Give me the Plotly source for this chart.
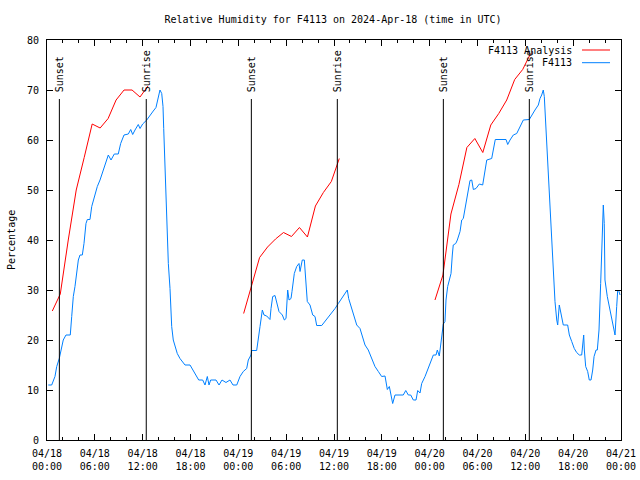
import plotly.graph_objects as go
from datetime import datetime, timedelta

TITLE = "Relative Humidity for F4113 on 2024-Apr-18 (time in UTC)"
START = datetime(2024, 4, 18, 0, 0)

# F4113 observations: hours since 2024-04-18 00:00 UTC, relative humidity (%)
obs_hours = [0.16, 0.59, 1.0, 1.22, 1.54, 1.84, 2.04, 2.38, 2.92, 3.10, 3.30, 3.51, 3.73, 3.93, 4.14, 4.43,
             4.64, 4.89, 5.06, 5.39, 5.61, 5.93, 6.31, 6.65, 7.06, 7.40, 7.69, 8.03, 8.44, 8.94, 9.24, 9.66,
             10.20, 10.50, 10.75, 11.04, 11.45, 11.67, 12.00, 12.51, 12.92, 13.33, 13.67, 13.89, 14.17, 14.39,
             14.55, 14.64, 14.76, 14.93, 15.09, 15.22, 15.43, 15.64, 15.84, 16.06, 16.34, 16.68, 17.02, 17.31,
             17.94, 18.28, 18.69, 19.03, 19.53, 19.82, 20.11, 20.32, 20.53, 21.20, 21.58, 21.95, 22.45, 22.95,
             23.33, 23.80, 24.21, 24.62, 25.05, 25.25, 25.59, 25.68, 26.30, 26.51, 26.72, 27.01, 27.22, 27.56,
             27.97, 28.10, 28.31, 28.60, 28.81, 29.10, 29.52, 29.77, 29.98, 30.19, 30.36, 30.61, 30.73, 31.02,
             31.32, 31.61, 31.74, 32.02, 32.28, 32.49, 32.65, 32.99, 33.33, 33.62, 33.83, 34.46, 34.87, 35.29,
             35.71, 36.13, 36.54, 36.97, 37.38, 37.67, 37.84, 38.22, 38.51, 38.85, 39.26, 39.60, 39.89, 40.30,
             40.73, 41.14, 41.56, 41.98, 42.40, 42.49, 42.69, 42.94, 43.11, 43.36, 43.65, 44.69, 45.00, 45.32,
             45.62, 45.95, 46.29, 46.50, 46.79, 47.00, 47.42, 47.83, 48.26, 48.46, 48.80, 48.96, 49.21, 49.39,
             49.55, 49.71, 49.92, 50.05, 50.26, 50.46, 50.68, 50.84, 50.96, 51.27, 51.47, 51.81, 52.02, 52.22,
             52.52, 52.65, 52.85, 53.06, 53.28, 53.48, 53.81, 54.23, 54.65, 54.85, 55.16, 55.78, 56.07, 56.23,
             57.58, 57.79, 58.08, 58.49, 58.92, 59.33, 59.75, 60.50, 60.80, 61.21, 61.63, 61.84, 62.05, 62.25,
             62.38, 62.51, 62.68, 62.81, 62.97, 63.10, 63.22, 63.39, 63.51, 63.72, 63.94, 64.06, 64.26, 64.48,
             64.76, 65.31, 65.52, 65.82, 66.14, 66.44, 66.77, 67.07, 67.20, 67.32, 67.40, 67.57, 67.82, 68.02,
             68.24, 68.45, 68.62, 68.87, 69.03, 69.24, 69.45, 69.65, 69.78, 69.90, 69.99, 70.28, 70.62, 70.83,
             71.03, 71.25, 71.46, 71.59, 71.75, 71.88]
obs_rh = [11, 11, 12.7, 14.7, 16.3, 18.7, 20, 21, 21, 24.7, 28.7, 30.7, 33.3, 36, 37, 37,
          39.3, 43.3, 44.1, 44.1, 46.7, 48.7, 50.7, 52, 54, 55.3, 57, 56, 57.2, 57.2, 59.3, 61,
          61.2, 62.1, 61.1, 62, 63.1, 62.3, 63.2, 64, 65, 65.8, 66.5, 68.1, 70, 69.3,
          66.7, 62.3, 56.7, 49.3, 44, 35.3, 30.3, 22.7, 20, 19, 17.3, 16.3, 15.7, 15,
          15, 14, 12.7, 12, 12, 11, 12.7, 11, 12, 12, 11, 12, 11.5, 12,
          11, 11, 12.7, 13.7, 14.3, 16, 17, 17.9, 17.9, 20.7, 22.7, 26, 25, 24.8,
          24.1, 26.3, 28.7, 28.9, 27.3, 25.7, 25, 24, 24.3, 30, 28, 28.3, 29.7, 33.3,
          34.7, 35.3, 33.7, 36, 36, 30, 27.7, 27, 25, 24.7, 22.9, 22.9, 23.7, 24.5,
          25.3, 26.3, 27.3, 28.3, 29.3, 30, 28.3, 26.3, 24.7, 23, 22.3, 20.7, 19, 18,
          16.3, 14.7, 13.7, 12.7, 12.8, 11.7, 10.1, 10.7, 9, 7.3, 9, 9, 9.9, 9,
          9, 8, 8, 9.9, 9.4, 11.3, 12.7, 14.3, 16, 17, 17, 18, 16.8, 19.3,
          22, 23.2, 23.7, 28, 30.7, 32.3, 33.3, 37, 39, 39.3, 40, 41.7, 44, 44.3,
          47, 47.7, 50, 51.9, 52, 50.1, 50.3, 51.2, 51, 53.3, 56, 56.3, 59, 60.1,
          60.1, 59.1, 60, 61, 61.3, 62.5, 64, 64.1, 65, 66, 67, 68.3, 69, 70,
          68.7, 64.7, 61, 56.7, 53.3, 48.7, 44, 38, 34, 27.7, 24, 23, 27, 25.3,
          23, 23, 21, 19.7, 18.3, 17.5, 17, 17, 20, 21, 18, 14.7, 13.7, 12,
          12, 14, 16.7, 18, 18, 22, 31.3, 39.3, 47, 43.3, 32, 28.7, 26, 24,
          22, 21, 26.7, 30, 29.7, 29]

# F4113 analysis: hourly values at hh:40, three overnight runs
ana_days = ["2024-04-18", "2024-04-19", "2024-04-20"]
ana_clock = ["00:40", "01:40", "02:40", "03:40", "04:40", "05:40", "06:40",
             "07:40", "08:40", "09:40", "10:40", "11:40", "12:40"]
ana_rh = [
    [25.8, 29.2, 40, 50, 56.5, 63.2, 62.4, 64.3, 68, 70, 70, 68.6, 70.8],
    [25.3, 30.7, 36.5, 38.6, 40.2, 41.5, 40.7, 42.5, 40.6, 46.8, 49.5, 51.7, 56.3],
    [28, 33, 45.2, 51.1, 58.5, 60.3, 57.5, 63, 65.3, 68, 72.1, 74.1, 77.3],
]

sun_times = ["2024-04-18 01:33", "2024-04-18 12:27", "2024-04-19 01:38",
             "2024-04-19 12:25", "2024-04-20 01:43", "2024-04-20 12:30"]
sun_labels = ["Sunset", "Sunrise", "Sunset", "Sunrise", "Sunset", "Sunrise"]
sun_line_top = 68.2

tick_times = ["2024-04-18 00:00", "2024-04-18 06:00", "2024-04-18 12:00", "2024-04-18 18:00",
              "2024-04-19 00:00", "2024-04-19 06:00", "2024-04-19 12:00", "2024-04-19 18:00",
              "2024-04-20 00:00", "2024-04-20 06:00", "2024-04-20 12:00", "2024-04-20 18:00",
              "2024-04-21 00:00"]
tick_text = ["04/18<br>00:00", "04/18<br>06:00", "04/18<br>12:00", "04/18<br>18:00",
             "04/19<br>00:00", "04/19<br>06:00", "04/19<br>12:00", "04/19<br>18:00",
             "04/20<br>00:00", "04/20<br>06:00", "04/20<br>12:00", "04/20<br>18:00",
             "04/21<br>00:00"]

FONT = "DejaVu Sans Mono"
RED = "#ff0000"
BLUE = "#0080ff"

W, H = 640, 480
PL, PR, PT, PB = 47, 621, 40, 440  # plot frame in pixels
PW, PH = PR - PL, PB - PT

obs_x = [START + timedelta(hours=h) for h in obs_hours]
ana_x, ana_y = [], []
for d, vals in zip(ana_days, ana_rh):
    ana_x += [f"{d} {c}" for c in ana_clock] + [None]
    ana_y += vals + [None]

fig = go.Figure()
fig.add_trace(go.Scatter(x=ana_x, y=ana_y, mode="lines", line=dict(color=RED, width=1),
                         name="F4113 Analysis", connectgaps=False, showlegend=False))
fig.add_trace(go.Scatter(x=obs_x, y=obs_rh, mode="lines", line=dict(color=BLUE, width=1),
                         name="F4113", showlegend=False))

for t, lab in zip(sun_times, sun_labels):
    fig.add_shape(type="line", xref="x", yref="y", x0=t, x1=t, y0=0, y1=sun_line_top,
                  line=dict(color="black", width=1))
    fig.add_annotation(x=t, y=sun_line_top, xref="x", yref="y", text=lab, showarrow=False,
                       textangle=-90, xanchor="center", yanchor="bottom", yshift=5,
                       font=dict(family=FONT, size=10, color="black"))

# gnuplot-style legend (text then sample line)
legend_items = [("F4113 Analysis", RED), ("F4113", BLUE)]
for i, (name, col) in enumerate(legend_items):
    ypix = 50 + i * 12.7
    yp = 1 - (ypix - PT) / PH
    fig.add_annotation(x=(574 - PL) / PW, y=yp, xref="paper", yref="paper", text=name,
                       showarrow=False, xanchor="right", yanchor="middle",
                       font=dict(family=FONT, size=10, color="black"))
    fig.add_shape(type="line", xref="paper", yref="paper",
                  x0=(582 - PL) / PW, x1=(610 - PL) / PW, y0=yp, y1=yp,
                  line=dict(color=col, width=1))

# y-axis title
fig.add_annotation(x=(11 - PL) / PW, y=0.5, xref="paper", yref="paper", text="Percentage",
                   showarrow=False, textangle=-90, xanchor="center", yanchor="middle",
                   font=dict(family=FONT, size=10, color="black"))

fig.update_layout(
    width=W, height=H,
    margin=dict(l=PL, r=W - PR, t=PT, b=H - PB, autoexpand=False),
    paper_bgcolor="white", plot_bgcolor="white",
    title=dict(text=TITLE, x=333 / W, xanchor="center", y=1 - 19 / H, yanchor="middle",
               yref="container", automargin=False,
               font=dict(family=FONT, size=10, color="black")),
    font=dict(family=FONT, size=10, color="black"),
    showlegend=False,
)
fig.update_xaxes(
    type="date", range=["2024-04-18 00:00", "2024-04-21 00:00"], automargin=False,
    tickmode="array", tickvals=tick_times, ticktext=tick_text,
    ticks="inside", ticklen=6, tickcolor="black", showgrid=False, zeroline=False,
    showline=True, linecolor="black", linewidth=1, mirror="ticks", ticklabelstandoff=4,
    minor=dict(dtick=2 * 3600 * 1000, ticks="inside", ticklen=3, tickcolor="black", showgrid=False),
    tickfont=dict(family=FONT, size=10, color="black"),
)
fig.update_yaxes(
    range=[0, 80], dtick=10, tick0=0, automargin=False,
    ticks="inside", ticklen=6, tickcolor="black", showgrid=False, zeroline=False,
    showline=True, linecolor="black", linewidth=1, mirror="ticks", ticklabelstandoff=5,
    tickfont=dict(family=FONT, size=10, color="black"),
)

fig.write_html("out.html", config={"displayModeBar": False},
               post_script="document.body.style.margin='0px';document.body.style.overflow='hidden';")
